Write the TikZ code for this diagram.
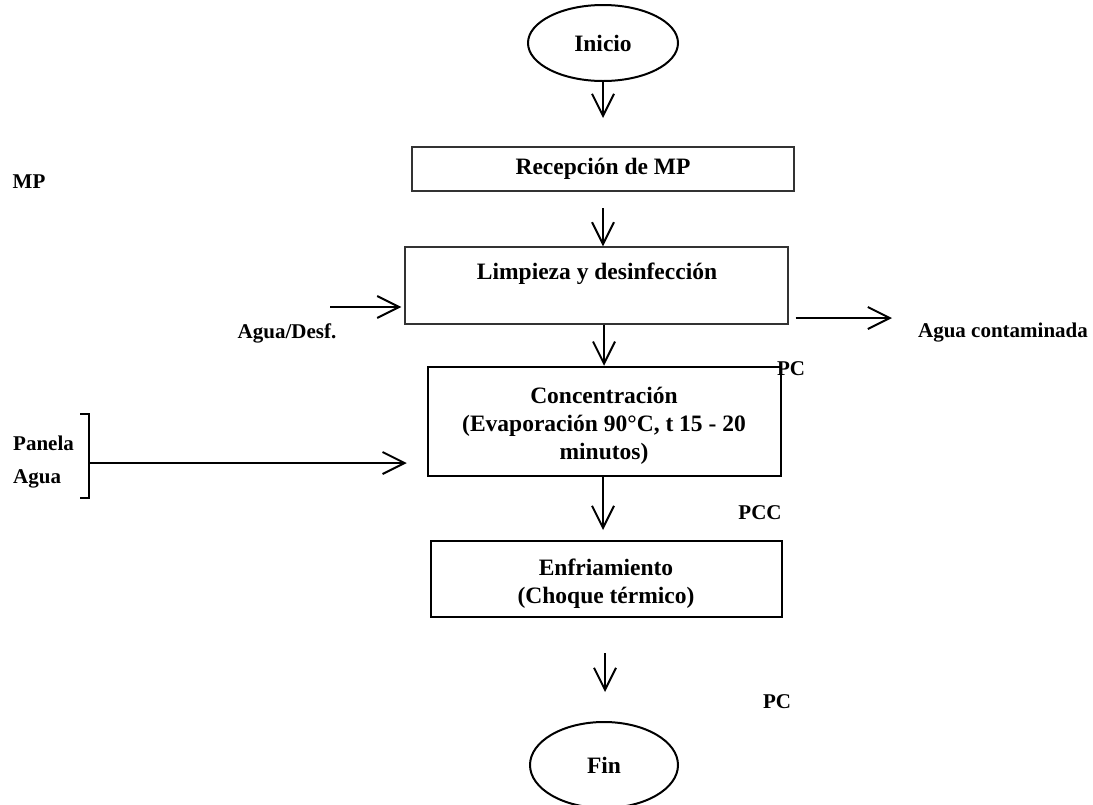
\documentclass[tikz,border=0pt]{standalone}
\usepackage{fontspec}
\setmainfont{Liberation Serif}
\usetikzlibrary{arrows.meta,shapes.geometric}

\begin{document}
\begin{tikzpicture}[x=1pt,y=-1pt,
  flow/.style={-{Straight Barb[length=22pt,width=22pt]}, line width=2pt},
  boxfont/.style={font=\bfseries\fontsize{23.5}{28}\selectfont},
  lbl/.style={font=\bfseries\fontsize{21}{25}\selectfont, inner sep=0pt},
  boxtext/.style={boxfont, inner sep=0pt, align=center},
  term/.style={ellipse, draw, line width=2pt, inner sep=0pt, boxfont},
  thinbox/.style={rectangle, draw=black!80, line width=1.1pt, inner sep=0pt, boxfont, align=center},
  thickbox/.style={rectangle, draw, line width=2.5pt, inner sep=0pt}]
\useasboundingbox (0,0) rectangle (1093,804);

% process steps
\node[term, minimum width=150, minimum height=76] (inicio) at (603,43) {\raisebox{-2pt}{Inicio}};
\node[thinbox, minimum width=382, minimum height=44] (recep) at (603,169) {Recepción de MP};
\node[thinbox, minimum width=383, minimum height=77] (limp) at (596.5,285.5) {};
\node[boxtext] (limptxt) at (597,274) {Limpieza y desinfección};
\node[thickbox, minimum width=353, minimum height=109] (conc) at (604.5,421.5) {};
\node[boxtext] (conctxt) at (604,426)
  {Concentración\\(Evaporación 90°C, t 15 - 20\\minutos)};
\node[thickbox, minimum width=351, minimum height=76] (enfr) at (606.5,579) {};
\node[boxtext] (enfrtxt) at (606,584) {Enfriamiento\\(Choque térmico)};
\node[term, minimum width=148, minimum height=86] (fin) at (604,765) {\raisebox{-2pt}{Fin}};

% main flow
\coordinate (a1) at (603,118);
\draw[flow] (inicio.south) -- (a1);
\coordinate (a2) at (603,208);
\draw[flow] (a2) -- (a2 |- limp.north);
\coordinate (a3) at (604,0);
\draw[flow] (a3 |- limp.south) -- (a3 |- conc.north);
\coordinate (a4) at (603,530);
\draw[flow] (a4 |- conc.south) -- (a4);
\coordinate (a5s) at (605,653);
\coordinate (a5e) at (605,692);
\draw[flow] (a5s) -- (a5e);

% inputs and outputs
\coordinate (din) at (330,307);
\draw[flow, shorten >=3pt] (din) -- (din -| limp.west);
\coordinate (dout) at (892,318);
\draw[flow, shorten <=7pt] (dout -| limp.east) -- (dout);

\coordinate (bt) at (89,414);
\coordinate (bb) at (89,498);
\coordinate (bm) at (89,463);
\draw[line width=1.3pt] ([xshift=-9pt]bt) -- (bt) -- (bb) -- ([xshift=-9pt]bb);
\draw[flow, shorten >=20pt] (bm) -- (bm -| conc.west);

% labels
\node[lbl] (mp) at (29,182) {MP};
\node[lbl] (aguadesf) at (287,333) {Agua/Desf.};
\node[lbl] (aguacont) at (1003,333) {Agua contaminada};
\node[lbl, anchor=west] (panela) at (13,443) {Panela};
\node[lbl, anchor=west] (agua) at (13,479) {Agua};
\node[lbl] (pc1) at (791,369) {PC};
\node[lbl] (pcc) at (760,513) {PCC};
\node[lbl] (pc2) at (777,702) {PC};
\end{tikzpicture}
\end{document}
